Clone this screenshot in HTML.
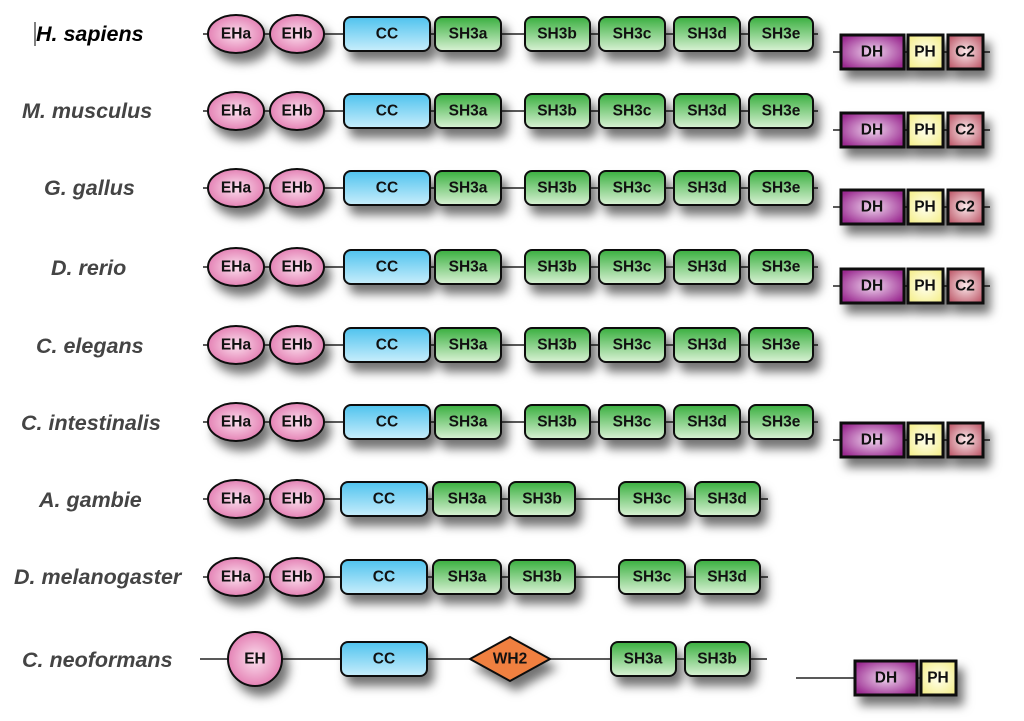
<!DOCTYPE html>
<html><head><meta charset="utf-8"><style>
body{margin:0;background:#fff;}
svg{display:block;}
.lb{font-family:"Liberation Sans",sans-serif;font-weight:bold;font-style:italic;font-size:21.5px;fill:#444;}
.t{font-family:"Liberation Sans",sans-serif;font-weight:bold;font-size:15.5px;fill:#111;text-anchor:middle;dominant-baseline:central;}
.ln{stroke:#222;stroke-width:1.5;}
.sh{filter:url(#ds);}
</style></head><body>
<svg width="1024" height="721" viewBox="0 0 1024 721" xmlns="http://www.w3.org/2000/svg">
<defs>
<filter id="ds" x="-30%" y="-40%" width="170%" height="240%"><feDropShadow dx="6" dy="9" stdDeviation="5" flood-color="#000" flood-opacity="0.55"/></filter>
<radialGradient id="gp" cx="50%" cy="50%" r="60%"><stop offset="0" stop-color="#fbe0ee"/><stop offset="1" stop-color="#e070aa"/></radialGradient>
<linearGradient id="gc" x1="0" y1="0" x2="0" y2="1"><stop offset="0" stop-color="#4fc3ee"/><stop offset="1" stop-color="#c8eefc"/></linearGradient>
<linearGradient id="gg" x1="0" y1="0" x2="0" y2="1"><stop offset="0" stop-color="#3aaf40"/><stop offset="1" stop-color="#d9f2d4"/></linearGradient>
<radialGradient id="gd" cx="50%" cy="50%" r="60%"><stop offset="0" stop-color="#f0d6ef"/><stop offset="1" stop-color="#9a2a90"/></radialGradient>
<radialGradient id="gy" cx="50%" cy="50%" r="60%"><stop offset="0" stop-color="#fffff0"/><stop offset="1" stop-color="#f5ef90"/></radialGradient>
<radialGradient id="gr" cx="50%" cy="50%" r="60%"><stop offset="0" stop-color="#fbe8ea"/><stop offset="1" stop-color="#c06070"/></radialGradient>
</defs>

<line x1="35" y1="22" x2="35" y2="46" stroke="#000" stroke-width="1"/>
<text class="lb" x="36" y="41" style="fill:#000">H. sapiens</text>
<text class="lb" x="22" y="118">M. musculus</text>
<text class="lb" x="44" y="195">G. gallus</text>
<text class="lb" x="51" y="275">D. rerio</text>
<text class="lb" x="36" y="353">C. elegans</text>
<text class="lb" x="21" y="430">C. intestinalis</text>
<text class="lb" x="39" y="507">A. gambie</text>
<text class="lb" x="14" y="584">D. melanogaster</text>
<text class="lb" x="22" y="667">C. neoformans</text>

<!-- Row 1 -->
<g transform="translate(0,34)">
<line class="ln" x1="203" y1="0" x2="818" y2="0"/>
<g class="sh"><ellipse cx="236" cy="0" rx="28" ry="19" fill="url(#gp)" stroke="#111" stroke-width="2"/><ellipse cx="297" cy="0" rx="27" ry="19" fill="url(#gp)" stroke="#111" stroke-width="2"/>
<rect x="344" y="-17" width="86" height="34" rx="7" fill="url(#gc)" stroke="#111" stroke-width="2"/>
<rect x="435" y="-17" width="66" height="34" rx="7" fill="url(#gg)" stroke="#111" stroke-width="2"/>
<rect x="525" y="-17" width="65" height="34" rx="7" fill="url(#gg)" stroke="#111" stroke-width="2"/>
<rect x="599" y="-17" width="66" height="34" rx="7" fill="url(#gg)" stroke="#111" stroke-width="2"/>
<rect x="674" y="-17" width="66" height="34" rx="7" fill="url(#gg)" stroke="#111" stroke-width="2"/>
<rect x="749" y="-17" width="64" height="34" rx="7" fill="url(#gg)" stroke="#111" stroke-width="2"/></g>
<text class="t" x="236" y="0">EHa</text><text class="t" x="297" y="0">EHb</text><text class="t" x="387" y="0">CC</text><text class="t" x="468" y="0">SH3a</text><text class="t" x="557" y="0">SH3b</text><text class="t" x="632" y="0">SH3c</text><text class="t" x="707" y="0">SH3d</text><text class="t" x="781" y="0">SH3e</text>
<line class="ln" x1="833" y1="18" x2="990" y2="18"/>
<g class="sh"><rect x="841" y="1" width="63" height="34" fill="url(#gd)" stroke="#111" stroke-width="3"/><rect x="908" y="1" width="35" height="34" fill="url(#gy)" stroke="#111" stroke-width="3"/><rect x="948" y="1" width="35" height="34" fill="url(#gr)" stroke="#111" stroke-width="3"/></g>
<text class="t" x="872" y="18">DH</text><text class="t" x="925" y="18">PH</text><text class="t" x="965" y="18">C2</text>
</g>

<!-- Row 2 -->
<g transform="translate(0,111)">
<line class="ln" x1="203" y1="0" x2="818" y2="0"/>
<g class="sh"><ellipse cx="236" cy="0" rx="28" ry="19" fill="url(#gp)" stroke="#111" stroke-width="2"/><ellipse cx="297" cy="0" rx="27" ry="19" fill="url(#gp)" stroke="#111" stroke-width="2"/>
<rect x="344" y="-17" width="86" height="34" rx="7" fill="url(#gc)" stroke="#111" stroke-width="2"/>
<rect x="435" y="-17" width="66" height="34" rx="7" fill="url(#gg)" stroke="#111" stroke-width="2"/>
<rect x="525" y="-17" width="65" height="34" rx="7" fill="url(#gg)" stroke="#111" stroke-width="2"/>
<rect x="599" y="-17" width="66" height="34" rx="7" fill="url(#gg)" stroke="#111" stroke-width="2"/>
<rect x="674" y="-17" width="66" height="34" rx="7" fill="url(#gg)" stroke="#111" stroke-width="2"/>
<rect x="749" y="-17" width="64" height="34" rx="7" fill="url(#gg)" stroke="#111" stroke-width="2"/></g>
<text class="t" x="236" y="0">EHa</text><text class="t" x="297" y="0">EHb</text><text class="t" x="387" y="0">CC</text><text class="t" x="468" y="0">SH3a</text><text class="t" x="557" y="0">SH3b</text><text class="t" x="632" y="0">SH3c</text><text class="t" x="707" y="0">SH3d</text><text class="t" x="781" y="0">SH3e</text>
<line class="ln" x1="833" y1="19" x2="990" y2="19"/>
<g class="sh"><rect x="841" y="2" width="63" height="34" fill="url(#gd)" stroke="#111" stroke-width="3"/><rect x="908" y="2" width="35" height="34" fill="url(#gy)" stroke="#111" stroke-width="3"/><rect x="948" y="2" width="35" height="34" fill="url(#gr)" stroke="#111" stroke-width="3"/></g>
<text class="t" x="872" y="19">DH</text><text class="t" x="925" y="19">PH</text><text class="t" x="965" y="19">C2</text>
</g>

<!-- Row 3 -->
<g transform="translate(0,188)">
<line class="ln" x1="203" y1="0" x2="818" y2="0"/>
<g class="sh"><ellipse cx="236" cy="0" rx="28" ry="19" fill="url(#gp)" stroke="#111" stroke-width="2"/><ellipse cx="297" cy="0" rx="27" ry="19" fill="url(#gp)" stroke="#111" stroke-width="2"/>
<rect x="344" y="-17" width="86" height="34" rx="7" fill="url(#gc)" stroke="#111" stroke-width="2"/>
<rect x="435" y="-17" width="66" height="34" rx="7" fill="url(#gg)" stroke="#111" stroke-width="2"/>
<rect x="525" y="-17" width="65" height="34" rx="7" fill="url(#gg)" stroke="#111" stroke-width="2"/>
<rect x="599" y="-17" width="66" height="34" rx="7" fill="url(#gg)" stroke="#111" stroke-width="2"/>
<rect x="674" y="-17" width="66" height="34" rx="7" fill="url(#gg)" stroke="#111" stroke-width="2"/>
<rect x="749" y="-17" width="64" height="34" rx="7" fill="url(#gg)" stroke="#111" stroke-width="2"/></g>
<text class="t" x="236" y="0">EHa</text><text class="t" x="297" y="0">EHb</text><text class="t" x="387" y="0">CC</text><text class="t" x="468" y="0">SH3a</text><text class="t" x="557" y="0">SH3b</text><text class="t" x="632" y="0">SH3c</text><text class="t" x="707" y="0">SH3d</text><text class="t" x="781" y="0">SH3e</text>
<line class="ln" x1="833" y1="19" x2="990" y2="19"/>
<g class="sh"><rect x="841" y="2" width="63" height="34" fill="url(#gd)" stroke="#111" stroke-width="3"/><rect x="908" y="2" width="35" height="34" fill="url(#gy)" stroke="#111" stroke-width="3"/><rect x="948" y="2" width="35" height="34" fill="url(#gr)" stroke="#111" stroke-width="3"/></g>
<text class="t" x="872" y="19">DH</text><text class="t" x="925" y="19">PH</text><text class="t" x="965" y="19">C2</text>
</g>

<!-- Row 4 -->
<g transform="translate(0,267)">
<line class="ln" x1="203" y1="0" x2="818" y2="0"/>
<g class="sh"><ellipse cx="236" cy="0" rx="28" ry="19" fill="url(#gp)" stroke="#111" stroke-width="2"/><ellipse cx="297" cy="0" rx="27" ry="19" fill="url(#gp)" stroke="#111" stroke-width="2"/>
<rect x="344" y="-17" width="86" height="34" rx="7" fill="url(#gc)" stroke="#111" stroke-width="2"/>
<rect x="435" y="-17" width="66" height="34" rx="7" fill="url(#gg)" stroke="#111" stroke-width="2"/>
<rect x="525" y="-17" width="65" height="34" rx="7" fill="url(#gg)" stroke="#111" stroke-width="2"/>
<rect x="599" y="-17" width="66" height="34" rx="7" fill="url(#gg)" stroke="#111" stroke-width="2"/>
<rect x="674" y="-17" width="66" height="34" rx="7" fill="url(#gg)" stroke="#111" stroke-width="2"/>
<rect x="749" y="-17" width="64" height="34" rx="7" fill="url(#gg)" stroke="#111" stroke-width="2"/></g>
<text class="t" x="236" y="0">EHa</text><text class="t" x="297" y="0">EHb</text><text class="t" x="387" y="0">CC</text><text class="t" x="468" y="0">SH3a</text><text class="t" x="557" y="0">SH3b</text><text class="t" x="632" y="0">SH3c</text><text class="t" x="707" y="0">SH3d</text><text class="t" x="781" y="0">SH3e</text>
<line class="ln" x1="833" y1="19" x2="990" y2="19"/>
<g class="sh"><rect x="841" y="2" width="63" height="34" fill="url(#gd)" stroke="#111" stroke-width="3"/><rect x="908" y="2" width="35" height="34" fill="url(#gy)" stroke="#111" stroke-width="3"/><rect x="948" y="2" width="35" height="34" fill="url(#gr)" stroke="#111" stroke-width="3"/></g>
<text class="t" x="872" y="19">DH</text><text class="t" x="925" y="19">PH</text><text class="t" x="965" y="19">C2</text>
</g>

<!-- Row 5 -->
<g transform="translate(0,345)">
<line class="ln" x1="203" y1="0" x2="818" y2="0"/>
<g class="sh"><ellipse cx="236" cy="0" rx="28" ry="19" fill="url(#gp)" stroke="#111" stroke-width="2"/><ellipse cx="297" cy="0" rx="27" ry="19" fill="url(#gp)" stroke="#111" stroke-width="2"/>
<rect x="344" y="-17" width="86" height="34" rx="7" fill="url(#gc)" stroke="#111" stroke-width="2"/>
<rect x="435" y="-17" width="66" height="34" rx="7" fill="url(#gg)" stroke="#111" stroke-width="2"/>
<rect x="525" y="-17" width="65" height="34" rx="7" fill="url(#gg)" stroke="#111" stroke-width="2"/>
<rect x="599" y="-17" width="66" height="34" rx="7" fill="url(#gg)" stroke="#111" stroke-width="2"/>
<rect x="674" y="-17" width="66" height="34" rx="7" fill="url(#gg)" stroke="#111" stroke-width="2"/>
<rect x="749" y="-17" width="64" height="34" rx="7" fill="url(#gg)" stroke="#111" stroke-width="2"/></g>
<text class="t" x="236" y="0">EHa</text><text class="t" x="297" y="0">EHb</text><text class="t" x="387" y="0">CC</text><text class="t" x="468" y="0">SH3a</text><text class="t" x="557" y="0">SH3b</text><text class="t" x="632" y="0">SH3c</text><text class="t" x="707" y="0">SH3d</text><text class="t" x="781" y="0">SH3e</text>
</g>

<!-- Row 6 -->
<g transform="translate(0,422)">
<line class="ln" x1="203" y1="0" x2="818" y2="0"/>
<g class="sh"><ellipse cx="236" cy="0" rx="28" ry="19" fill="url(#gp)" stroke="#111" stroke-width="2"/><ellipse cx="297" cy="0" rx="27" ry="19" fill="url(#gp)" stroke="#111" stroke-width="2"/>
<rect x="344" y="-17" width="86" height="34" rx="7" fill="url(#gc)" stroke="#111" stroke-width="2"/>
<rect x="435" y="-17" width="66" height="34" rx="7" fill="url(#gg)" stroke="#111" stroke-width="2"/>
<rect x="525" y="-17" width="65" height="34" rx="7" fill="url(#gg)" stroke="#111" stroke-width="2"/>
<rect x="599" y="-17" width="66" height="34" rx="7" fill="url(#gg)" stroke="#111" stroke-width="2"/>
<rect x="674" y="-17" width="66" height="34" rx="7" fill="url(#gg)" stroke="#111" stroke-width="2"/>
<rect x="749" y="-17" width="64" height="34" rx="7" fill="url(#gg)" stroke="#111" stroke-width="2"/></g>
<text class="t" x="236" y="0">EHa</text><text class="t" x="297" y="0">EHb</text><text class="t" x="387" y="0">CC</text><text class="t" x="468" y="0">SH3a</text><text class="t" x="557" y="0">SH3b</text><text class="t" x="632" y="0">SH3c</text><text class="t" x="707" y="0">SH3d</text><text class="t" x="781" y="0">SH3e</text>
<line class="ln" x1="833" y1="18" x2="990" y2="18"/>
<g class="sh"><rect x="841" y="1" width="63" height="34" fill="url(#gd)" stroke="#111" stroke-width="3"/><rect x="908" y="1" width="35" height="34" fill="url(#gy)" stroke="#111" stroke-width="3"/><rect x="948" y="1" width="35" height="34" fill="url(#gr)" stroke="#111" stroke-width="3"/></g>
<text class="t" x="872" y="18">DH</text><text class="t" x="925" y="18">PH</text><text class="t" x="965" y="18">C2</text>
</g>

<!-- Row 7 -->
<g transform="translate(0,499)">
<line class="ln" x1="203" y1="0" x2="768" y2="0"/>
<g class="sh"><ellipse cx="236" cy="0" rx="28" ry="19" fill="url(#gp)" stroke="#111" stroke-width="2"/><ellipse cx="297" cy="0" rx="27" ry="19" fill="url(#gp)" stroke="#111" stroke-width="2"/>
<rect x="341" y="-17" width="86" height="34" rx="7" fill="url(#gc)" stroke="#111" stroke-width="2"/>
<rect x="433" y="-17" width="68" height="34" rx="7" fill="url(#gg)" stroke="#111" stroke-width="2"/>
<rect x="509" y="-17" width="66" height="34" rx="7" fill="url(#gg)" stroke="#111" stroke-width="2"/>
<rect x="619" y="-17" width="66" height="34" rx="7" fill="url(#gg)" stroke="#111" stroke-width="2"/>
<rect x="695" y="-17" width="65" height="34" rx="7" fill="url(#gg)" stroke="#111" stroke-width="2"/></g>
<text class="t" x="236" y="0">EHa</text><text class="t" x="297" y="0">EHb</text><text class="t" x="384" y="0">CC</text><text class="t" x="467" y="0">SH3a</text><text class="t" x="542" y="0">SH3b</text><text class="t" x="652" y="0">SH3c</text><text class="t" x="727" y="0">SH3d</text>
</g>

<!-- Row 8 -->
<g transform="translate(0,577)">
<line class="ln" x1="203" y1="0" x2="768" y2="0"/>
<g class="sh"><ellipse cx="236" cy="0" rx="28" ry="19" fill="url(#gp)" stroke="#111" stroke-width="2"/><ellipse cx="297" cy="0" rx="27" ry="19" fill="url(#gp)" stroke="#111" stroke-width="2"/>
<rect x="341" y="-17" width="86" height="34" rx="7" fill="url(#gc)" stroke="#111" stroke-width="2"/>
<rect x="433" y="-17" width="68" height="34" rx="7" fill="url(#gg)" stroke="#111" stroke-width="2"/>
<rect x="509" y="-17" width="66" height="34" rx="7" fill="url(#gg)" stroke="#111" stroke-width="2"/>
<rect x="619" y="-17" width="66" height="34" rx="7" fill="url(#gg)" stroke="#111" stroke-width="2"/>
<rect x="695" y="-17" width="65" height="34" rx="7" fill="url(#gg)" stroke="#111" stroke-width="2"/></g>
<text class="t" x="236" y="0">EHa</text><text class="t" x="297" y="0">EHb</text><text class="t" x="384" y="0">CC</text><text class="t" x="467" y="0">SH3a</text><text class="t" x="542" y="0">SH3b</text><text class="t" x="652" y="0">SH3c</text><text class="t" x="727" y="0">SH3d</text>
</g>

<!-- Row 9 -->
<g transform="translate(0,659)">
<line class="ln" x1="200" y1="0" x2="767" y2="0"/>
<g class="sh"><circle cx="255" cy="0" r="27" fill="url(#gp)" stroke="#111" stroke-width="2"/>
<rect x="341" y="-17" width="86" height="34" rx="7" fill="url(#gc)" stroke="#111" stroke-width="2"/>
<polygon points="470,0 510,-22 550,0 510,22" fill="#f08040" stroke="#111" stroke-width="2"/>
<rect x="611" y="-17" width="65" height="34" rx="7" fill="url(#gg)" stroke="#111" stroke-width="2"/>
<rect x="685" y="-17" width="65" height="34" rx="7" fill="url(#gg)" stroke="#111" stroke-width="2"/></g>
<text class="t" x="255" y="0">EH</text><text class="t" x="384" y="0">CC</text><text class="t" x="510" y="0">WH2</text><text class="t" x="643" y="0">SH3a</text><text class="t" x="717" y="0">SH3b</text>
<line class="ln" x1="796" y1="19" x2="921" y2="19"/>
<g class="sh"><rect x="855" y="2" width="62" height="34" fill="url(#gd)" stroke="#111" stroke-width="3"/><rect x="921" y="2" width="35" height="34" fill="url(#gy)" stroke="#111" stroke-width="3"/></g>
<text class="t" x="886" y="19">DH</text><text class="t" x="938" y="19">PH</text>
</g>
</svg>
</body></html>
